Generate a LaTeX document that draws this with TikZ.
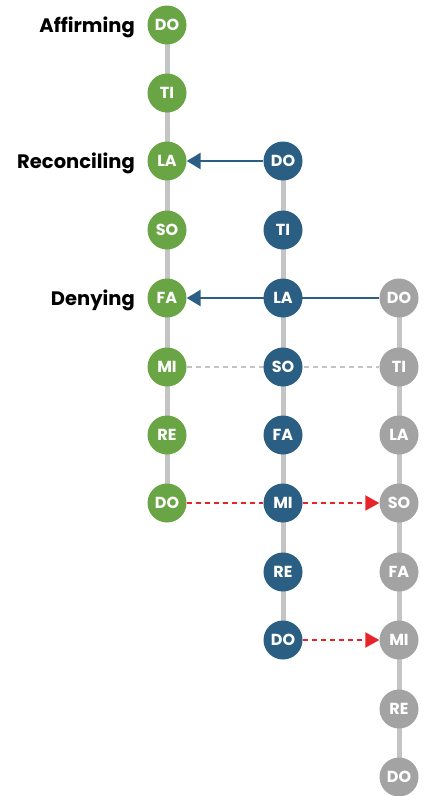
\documentclass[tikz,border=0pt]{standalone}
\usepackage{fontspec}
\setsansfont{Poppins}
\usetikzlibrary{arrows.meta, positioning, backgrounds}
\definecolor{octgreen}{HTML}{69A544}
\definecolor{octblue}{HTML}{2A5E82}
\definecolor{octgray}{HTML}{A3A3A3}
\definecolor{stemgray}{HTML}{C4C4C4}
\definecolor{shockred}{HTML}{E8232A}

\begin{document}
\begin{tikzpicture}[x=1pt, y=-1pt,
  note/.style={circle, minimum size=39pt, inner sep=0pt, text=white,
               font=\sffamily\bfseries\fontsize{16}{16}\selectfont},
  gnote/.style={note, fill=octgreen},
  bnote/.style={note, fill=octblue},
  cnote/.style={note, fill=octgray},
  stem/.style={line width=5pt, stemgray},
  force/.style={font=\sffamily\bfseries\fontsize{19.5}{19.5}\selectfont, yshift=-2pt},
  link/.style={-{Triangle[length=14pt, width=16pt]}, line width=2.8pt, octblue},
  echo/.style={dashed, dash pattern=on 5pt off 4pt, line width=1.5pt, stemgray},
  shock/.style={dash pattern=on 5pt off 4pt, line width=2pt, shockred},
  shockarrow/.style={shock, -{Triangle[length=14pt, width=15pt]}}
]
  \useasboundingbox (0,0) rectangle (430,796);

  % first octave
  \node[gnote] (a0) at (167,25)  {DO};
  \node[gnote] (a1) at (167,93)  {TI};
  \node[gnote] (a2) at (167,161) {LA};
  \node[gnote] (a3) at (167,230) {SO};
  \node[gnote] (a4) at (167,298) {FA};
  \node[gnote] (a5) at (167,367) {MI};
  \node[gnote] (a6) at (167,435) {RE};
  \node[gnote] (a7) at (167,503) {DO};

  % second octave
  \node[bnote] (b2) at (283,161) {DO};
  \node[bnote] (b3) at (283,230) {TI};
  \node[bnote] (b4) at (283,298) {LA};
  \node[bnote] (b5) at (283,367) {SO};
  \node[bnote] (b6) at (283,435) {FA};
  \node[bnote] (b7) at (283,503) {MI};
  \node[bnote] (b8) at (283,572) {RE};
  \node[bnote] (b9) at (283,640) {DO};

  % third octave
  \node[cnote] (c4)  at (399,298) {DO};
  \node[cnote] (c5)  at (399,367) {TI};
  \node[cnote] (c6)  at (399,435) {LA};
  \node[cnote] (c7)  at (399,503) {SO};
  \node[cnote] (c8)  at (399,572) {FA};
  \node[cnote] (c9)  at (399,640) {MI};
  \node[cnote] (c10) at (399,709) {RE};
  \node[cnote] (c11) at (399,777) {DO};

  \node[force, left=9pt of a0] (affirming)   {Affirming};
  \node[force, left=9pt of a2] (reconciling) {Reconciling};
  \node[force, left=9pt of a4] (denying)     {Denying};

  \begin{scope}[on background layer]
    \draw[stem] (a0.center) -- (a7.center);
    \draw[stem] (b2.center) -- (b9.center);
    \draw[stem] (c4.center) -- (c11.center);

    \draw[link] (b2) -- (a2);
    \draw[link] (c4) -- (a4);
    \draw[echo] (a5) -- (c5);

    % shocks between octaves
    \draw[shock] (a7) -- (b7);
    \draw[shockarrow] (b7) -- (c7);
    \draw[shockarrow] (b9) -- (c9);
  \end{scope}
\end{tikzpicture}
\end{document}
